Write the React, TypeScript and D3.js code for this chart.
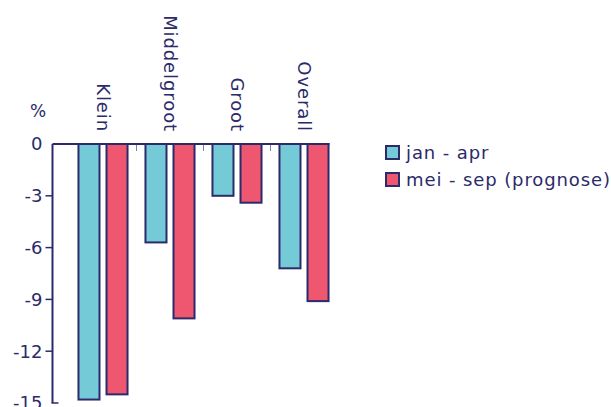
import React, { useEffect, useRef } from 'react';
import * as d3 from 'd3';

const categories = ['Klein', 'Middelgroot', 'Groot', 'Overall'];
const seriesNames = ['jan - apr', 'mei - sep (prognose)'];
const janApr = [-14.8, -5.7, -3.0, -7.2];
const meiSep = [-14.5, -10.1, -3.4, -9.1];
const yTicks = [0, -3, -6, -9, -12, -15];
const colors = ['#74cbd7', '#ef5670'];

const NAVY = '#2b2a6b';
const FONT = '"DejaVu Sans", sans-serif';

export default function App() {
  const ref = useRef<SVGSVGElement>(null);

  useEffect(() => {
    const svg = d3.select(ref.current);
    svg.selectAll('*').remove();

    const axisX = 52.5;
    const y = d3.scaleLinear().domain([-15, 0]).range([403, 144]);
    const x0 = d3.scaleBand().domain(categories).range([69.5, 337.5]);
    const x1 = d3.scaleBand().domain(seriesNames).range([0, x0.bandwidth()])
      .paddingInner(0.25).paddingOuter(0.32);

    const rows = categories.map((c, i) => ({ c, vals: [janApr[i], meiSep[i]] }));

    // bars
    const g = svg.append('g');
    const groups = g.selectAll('.grp').data(rows).enter().append('g')
      .attr('transform', d => `translate(${x0(d.c)},0)`);
    groups.selectAll('rect')
      .data(d => d.vals.map((v, j) => ({ v, s: seriesNames[j], j })))
      .enter().append('rect')
      .attr('x', d => x1(d.s)!)
      .attr('y', y(0))
      .attr('width', x1.bandwidth())
      .attr('height', d => y(d.v) - y(0))
      .attr('fill', d => colors[d.j])
      .attr('stroke', NAVY)
      .attr('stroke-width', 2);

    // x axis line + ticks between groups
    g.append('line').attr('x1', axisX).attr('x2', 329.5).attr('y1', y(0)).attr('y2', y(0))
      .attr('stroke', NAVY).attr('stroke-width', 2);
    g.selectAll('.xt').data(categories.slice(1)).enter().append('line')
      .attr('x1', d => x0(d)!).attr('x2', d => x0(d)!)
      .attr('y1', y(0)).attr('y2', y(0) + 7)
      .attr('stroke', NAVY).attr('stroke-opacity', 0.6).attr('stroke-width', 1);

    // category labels
    g.selectAll('.cl').data(categories).enter().append('text')
      .attr('transform', d => `translate(${x0(d)! + x0.bandwidth() / 2},132) rotate(90)`)
      .attr('text-anchor', 'end')
      .attr('dy', '0.35em')
      .attr('fill', NAVY)
      .style('font-family', FONT)
      .style('font-size', '18px')
      .style('letter-spacing', '0.9px')
      .text(d => d);

    // y axis
    const yAxis = svg.append('g').attr('transform', `translate(${axisX},0)`);
    yAxis.append('line').attr('x1', 0).attr('x2', 0).attr('y1', y(0)).attr('y2', y(-15))
      .attr('stroke', NAVY).attr('stroke-width', 2);
    yAxis.append('line').attr('x1', -1).attr('x2', 6).attr('y1', y(-15)).attr('y2', y(-15))
      .attr('stroke', NAVY).attr('stroke-width', 1.5);
    yAxis.selectAll('.yt').data(yTicks.filter(t => t !== 0 && t !== -15)).enter().append('line')
      .attr('x1', -7).attr('x2', 0).attr('y1', d => y(d)).attr('y2', d => y(d))
      .attr('stroke', NAVY).attr('stroke-width', 1.5);
    yAxis.selectAll('.yl').data(yTicks).enter().append('text')
      .attr('x', -10).attr('y', d => y(d)).attr('dy', '0.36em')
      .attr('text-anchor', 'end')
      .attr('fill', NAVY)
      .style('font-family', FONT)
      .style('font-size', '18px')
      .text(d => d);
    svg.append('text').attr('x', 38).attr('y', 117).attr('text-anchor', 'middle')
      .attr('fill', NAVY).style('font-family', FONT).style('font-size', '17px').text('%');

    // legend
    const leg = svg.append('g').attr('transform', 'translate(386,146)');
    const items = leg.selectAll('.li').data(seriesNames).enter().append('g')
      .attr('transform', (d, i) => `translate(0,${i * 27})`);
    items.append('rect').attr('width', 13).attr('height', 13)
      .attr('fill', (d, i) => colors[i]).attr('stroke', NAVY).attr('stroke-width', 2);
    items.append('text').attr('x', 20).attr('y', 7).attr('dy', '0.35em')
      .attr('fill', NAVY).style('font-family', FONT).style('font-size', '18px')
      .style('letter-spacing', '0.9px')
      .text(d => d);
  }, []);

  return (
    <svg ref={ref} width={611} height={407}
      style={{ position: 'absolute', left: 0, top: 0, background: '#fff' }} />
  );
}
